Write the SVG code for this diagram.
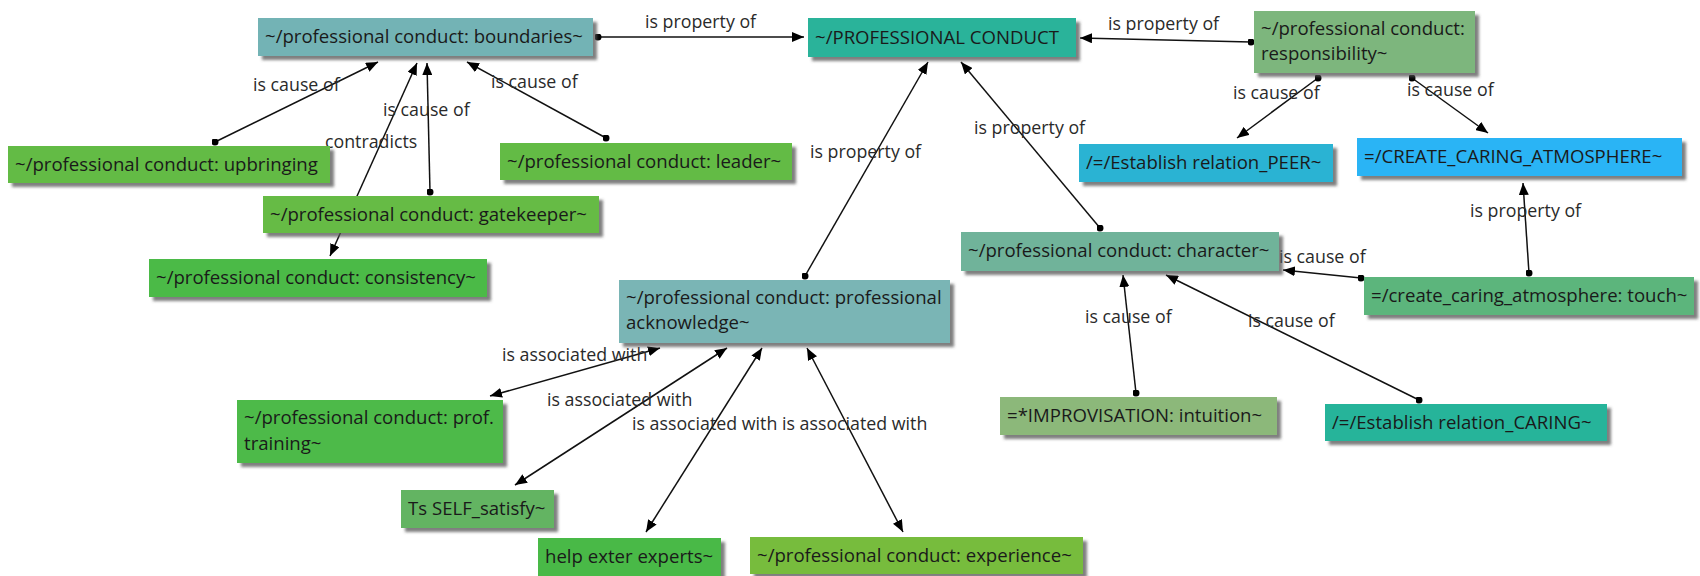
<svg xmlns="http://www.w3.org/2000/svg" width="1700" height="576" viewBox="0 0 1700 576">
<style>
  .node rect { stroke: none; filter: url(#shadow); }
  .node text { font-family: "Open Sans", "Noto Sans", sans-serif; font-size: 18.6px; fill: #1a1a1a; }
  .edge line { stroke: #111; stroke-width: 1.5; marker-start: url(#dot); marker-end: url(#arrow); }
  .edge line.both { marker-start: url(#arrow); }
  .lbl { font-family: "Open Sans", "Noto Sans", sans-serif; font-size: 17.8px; fill: #2a2a2a; }
</style>
<defs>
  <filter id="shadow" x="-5%" y="-10%" width="115%" height="140%">
    <feDropShadow dx="4" dy="4" stdDeviation="1.5" flood-color="#555" flood-opacity="0.75"/>
  </filter>
  <marker id="arrow" viewBox="0 0 12 10" refX="12" refY="5" markerWidth="12" markerHeight="10" markerUnits="userSpaceOnUse" orient="auto-start-reverse">
    <path d="M0,0 L12,5 L0,10 z" fill="#000"/>
  </marker>
  <marker id="dot" viewBox="0 0 8 8" refX="4" refY="4" markerWidth="7" markerHeight="7" markerUnits="userSpaceOnUse">
    <circle cx="4" cy="4" r="4" fill="#000"/>
  </marker>
</defs>
<rect width="1700" height="576" fill="#fff"/>

<!-- connectors -->
<g id="connectors" class="edge">
  <line x1="598" y1="37" x2="804" y2="37"/>
  <line x1="1251" y1="42" x2="1080" y2="38"/>
  <line x1="215" y1="142" x2="378" y2="62"/>
  <line x1="606" y1="138" x2="467" y2="62"/>
  <line x1="430" y1="192" x2="427" y2="63"/>
  <line class="both" x1="330" y1="256" x2="417" y2="63"/>
  <line x1="805" y1="276" x2="928" y2="62"/>
  <line x1="1100" y1="228" x2="961" y2="62"/>
  <line x1="1318" y1="78" x2="1237" y2="138"/>
  <line x1="1412" y1="78" x2="1488" y2="133"/>
  <line x1="1529" y1="273" x2="1523" y2="183"/>
  <line x1="1361" y1="278" x2="1283" y2="270"/>
  <line x1="1136" y1="393" x2="1123" y2="275"/>
  <line x1="1419" y1="400" x2="1166" y2="275"/>
  <line class="both" x1="490" y1="396" x2="660" y2="348"/>
  <line class="both" x1="515" y1="485" x2="727" y2="348"/>
  <line class="both" x1="646" y1="532" x2="762" y2="348"/>
  <line class="both" x1="903" y1="532" x2="807" y2="348"/>
</g>

<!-- connector labels -->
<g id="labels" class="lbl">
  <text x="645" y="28">is property of</text>
  <text x="1108" y="30">is property of</text>
  <text x="253" y="91">is cause of</text>
  <text x="491" y="88">is cause of</text>
  <text x="383" y="116">is cause of</text>
  <text x="325" y="148">contradicts</text>
  <text x="810" y="158">is property of</text>
  <text x="974" y="134">is property of</text>
  <text x="1233" y="99">is cause of</text>
  <text x="1407" y="96">is cause of</text>
  <text x="1470" y="217">is property of</text>
  <text x="1279" y="263">is cause of</text>
  <text x="1085" y="323">is cause of</text>
  <text x="1248" y="327">is cause of</text>
  <text x="502" y="361">is associated with</text>
  <text x="547" y="406">is associated with</text>
  <text x="632" y="430">is associated with</text>
  <text x="782" y="430">is associated with</text>
</g>

<!-- concept nodes -->
<g id="n-boundaries" class="node">
  <rect x="258" y="18" width="335" height="38" fill="#73B3B5"/>
  <text x="265" y="43">~/professional conduct: boundaries~</text>
</g>
<g id="n-professional-conduct" class="node">
  <rect x="808" y="18" width="268" height="39" fill="#2BB39A"/>
  <text x="815" y="44">~/PROFESSIONAL CONDUCT</text>
</g>
<g id="n-responsibility" class="node">
  <rect x="1254" y="11" width="221" height="62" fill="#7DB67D"/>
  <text x="1261" y="35">~/professional conduct:</text>
  <text x="1261" y="60">responsibility~</text>
</g>
<g id="n-upbringing" class="node">
  <rect x="8" y="146" width="322" height="37" fill="#63BB45"/>
  <text x="15" y="171">~/professional conduct: upbringing</text>
</g>
<g id="n-leader" class="node">
  <rect x="500" y="143" width="292" height="37" fill="#63BB45"/>
  <text x="507" y="168">~/professional conduct: leader~</text>
</g>
<g id="n-gatekeeper" class="node">
  <rect x="263" y="196" width="336" height="37" fill="#66BB44"/>
  <text x="270" y="221">~/professional conduct: gatekeeper~</text>
</g>
<g id="n-consistency" class="node">
  <rect x="149" y="259" width="338" height="38" fill="#4CBA46"/>
  <text x="156" y="284">~/professional conduct: consistency~</text>
</g>
<g id="n-peer" class="node">
  <rect x="1079" y="144" width="254" height="38" fill="#2BB3D3"/>
  <text x="1086" y="169">/=/Establish relation_PEER~</text>
</g>
<g id="n-create-caring" class="node">
  <rect x="1357" y="138" width="325" height="38" fill="#2AB4F5"/>
  <text x="1364" y="163">=/CREATE_CARING_ATMOSPHERE~</text>
</g>
<g id="n-character" class="node">
  <rect x="961" y="232" width="318" height="39" fill="#70B39A"/>
  <text x="968" y="257">~/professional conduct: character~</text>
</g>
<g id="n-touch" class="node">
  <rect x="1364" y="277" width="330" height="38" fill="#5CB57C"/>
  <text x="1371" y="302">=/create_caring_atmosphere: touch~</text>
</g>
<g id="n-acknowledge" class="node">
  <rect x="619" y="280" width="331" height="63" fill="#7AB5B5"/>
  <text x="626" y="304">~/professional conduct: professional</text>
  <text x="626" y="329">acknowledge~</text>
</g>
<g id="n-training" class="node">
  <rect x="237" y="400" width="266" height="63" fill="#4EBA48"/>
  <text x="244" y="424">~/professional conduct: prof.</text>
  <text x="244" y="450">training~</text>
</g>
<g id="n-intuition" class="node">
  <rect x="1000" y="397" width="277" height="38" fill="#8CB87A"/>
  <text x="1007" y="422">=*IMPROVISATION: intuition~</text>
</g>
<g id="n-caring" class="node">
  <rect x="1325" y="404" width="282" height="37" fill="#25B49A"/>
  <text x="1332" y="429">/=/Establish relation_CARING~</text>
</g>
<g id="n-self-satisfy" class="node">
  <rect x="401" y="490" width="153" height="38" fill="#63B462"/>
  <text x="408" y="515">Ts SELF_satisfy~</text>
</g>
<g id="n-experts" class="node">
  <rect x="538" y="538" width="183" height="39" fill="#48B947"/>
  <text x="545" y="563">help exter experts~</text>
</g>
<g id="n-experience" class="node">
  <rect x="750" y="537" width="333" height="37" fill="#77BC3E"/>
  <text x="757" y="562">~/professional conduct: experience~</text>
</g>
</svg>
